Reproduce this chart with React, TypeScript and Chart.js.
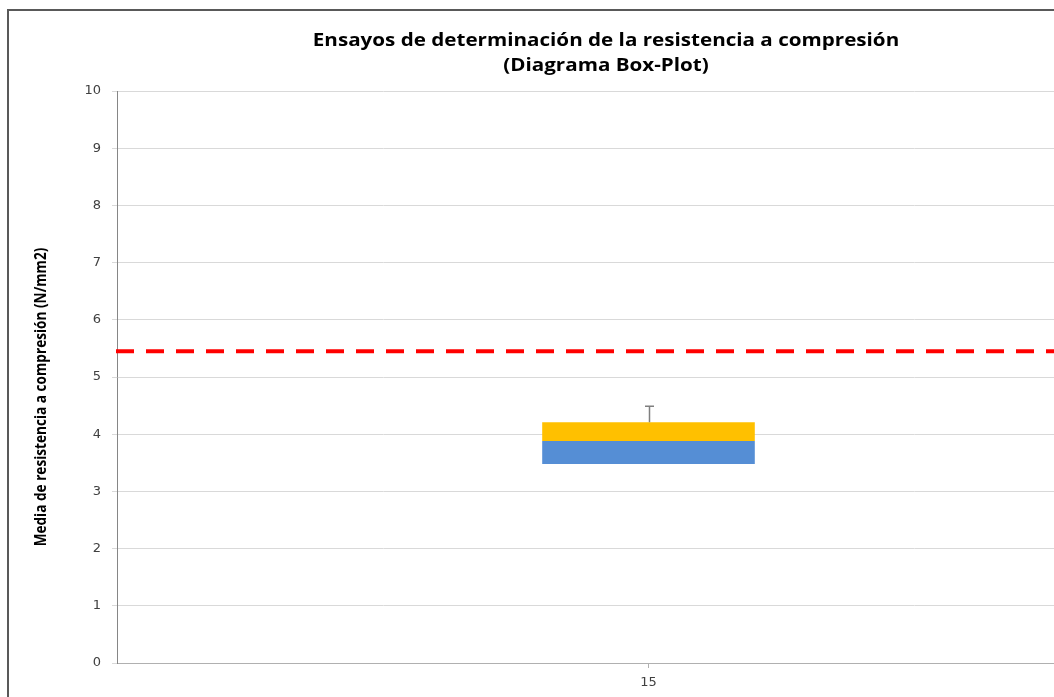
import React, { useEffect, useRef } from "react";
import { Chart, registerables } from "chart.js";

Chart.register(...registerables);

// ---- data ----
const categories = ["15"];
const boxMin = [3.48]; // lower edge of box (Q1)
const boxLower = [0.4]; // Q1 -> median (blue)
const boxUpper = [0.33]; // median -> Q3 (orange)
const whiskerMax = [4.49]; // upper whisker end
const referenceValue = [5.45]; // red dashed line
const yMin = 0;
const yMax = 10;
const yStep = 1;
const titleLines = [
  "Ensayos de determinación de la resistencia a compresión",
  "(Diagrama Box-Plot)",
];
const yAxisTitle = "Media de resistencia a compresión (N/mm2)";

const CANVAS_W = 1280;
const CANVAS_H = 740;

export default function App() {
  const ref = useRef<HTMLCanvasElement | null>(null);

  useEffect(() => {
    if (!ref.current) return;

    const boxPlugin = {
      id: "boxExtras",
      afterDatasetsDraw(chart: any) {
        const { ctx, chartArea, scales } = chart;
        const xs = scales.x;
        const ys = scales.y;
        ctx.save();
        // whiskers
        categories.forEach((_, i) => {
          const x = Math.round(xs.getPixelForValue(i)) + 0.5;
          const q3 = boxMin[i] + boxLower[i] + boxUpper[i];
          const yTop = ys.getPixelForValue(whiskerMax[i]);
          const yQ3 = ys.getPixelForValue(q3);
          ctx.strokeStyle = "#7f7f7f";
          ctx.lineWidth = 1.5;
          ctx.beginPath();
          ctx.moveTo(x, yQ3);
          ctx.lineTo(x, yTop);
          ctx.moveTo(x - 4.5, yTop);
          ctx.lineTo(x + 4.5, yTop);
          ctx.stroke();
        });
        // reference line
        referenceValue.forEach((v) => {
          const y = ys.getPixelForValue(v);
          ctx.strokeStyle = "#ff0000";
          ctx.lineWidth = 4;
          ctx.setLineDash([18, 12]);
          ctx.beginPath();
          ctx.moveTo(chartArea.left - 1, y);
          ctx.lineTo(chartArea.right, y);
          ctx.stroke();
        });
        ctx.restore();
      },
      afterDraw(chart: any) {
        const { ctx } = chart;
        ctx.save();
        ctx.fillStyle = "#000000";
        ctx.textAlign = "center";
        ctx.textBaseline = "middle";
        ctx.font = "bold 18px 'Open Sans'";
        ctx.save();
        ctx.translate(597, 30);
        ctx.scale(1.145, 1);
        ctx.fillText(titleLines[0], 0, 0);
        ctx.restore();
        ctx.save();
        ctx.translate(597, 55);
        ctx.scale(1.145, 1);
        ctx.fillText(titleLines[1], 0, 0);
        ctx.restore();
        ctx.translate(32, 386);
        ctx.rotate(-Math.PI / 2);
        ctx.scale(0.85, 1);
        ctx.font = "bold 16px 'Open Sans'";
        ctx.fillText(yAxisTitle, 0, 0);
        ctx.restore();
      },
    };

    const chart = new Chart(ref.current, {
      type: "bar",
      data: {
        labels: categories,
        datasets: [
          {
            label: "base",
            data: boxMin,
            backgroundColor: "rgba(0,0,0,0)",
            borderWidth: 0,
            barPercentage: 0.2,
            categoryPercentage: 1,
          },
          {
            label: "Q1-Mediana",
            data: boxLower,
            backgroundColor: "#558ED5",
            borderWidth: 0,
            barPercentage: 0.2,
            categoryPercentage: 1,
          },
          {
            label: "Mediana-Q3",
            data: boxUpper,
            backgroundColor: "#FFC000",
            borderWidth: 0,
            barPercentage: 0.2,
            categoryPercentage: 1,
          },
        ],
      },
      options: {
        responsive: false,
        animation: false,
        devicePixelRatio: 1,
        layout: { padding: { top: 80, right: CANVAS_W - 1171, left: 0, bottom: 0 } },
        plugins: {
          legend: { display: false },
          tooltip: { enabled: false },
          title: { display: false },
        },
        scales: {
          x: {
            stacked: true,
            offset: true,
            grid: {
              display: true,
              drawOnChartArea: false,
              offset: false,
              tickLength: 5,
              color: "#b0b0b0",
            },
            border: { color: "#b0b0b0" },
            ticks: {
              color: "#404040",
              padding: 7,
              font: { family: "'DejaVu Sans'", size: 13 },
            },
            afterFit: (s: any) => {
              s.height = 88;
            },
          },
          y: {
            stacked: true,
            min: yMin,
            max: yMax,
            ticks: {
              stepSize: yStep,
              color: "#404040",
              padding: 11,
              font: { family: "'DejaVu Sans'", size: 13 },
            },
            grid: {
              color: "#d9d9d9",
              tickLength: 5,
              tickColor: "#d9d9d9",
            },
            border: { color: "#868686" },
            afterFit: (s: any) => {
              s.width = 108;
            },
          },
        },
      },
      plugins: [boxPlugin],
    });

    return () => chart.destroy();
  }, []);

  return (
    <div
      style={{
        position: "fixed",
        left: 0,
        top: 0,
        width: 1054,
        height: 697,
        overflow: "hidden",
        background: "#ffffff",
      }}
    >
      <div
        style={{
          position: "absolute",
          left: 7,
          top: 9,
          border: "2px solid #595959",
          width: CANVAS_W,
          height: CANVAS_H,
        }}
      >
        <canvas
          ref={ref}
          width={CANVAS_W}
          height={CANVAS_H}
          style={{ display: "block", width: CANVAS_W, height: CANVAS_H }}
        />
      </div>
    </div>
  );
}
